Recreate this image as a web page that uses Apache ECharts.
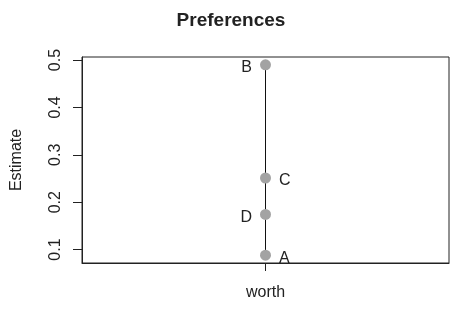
<!DOCTYPE html>
<html>
<head>
<meta charset="utf-8">
<script src="https://cdn.jsdelivr.net/npm/echarts@6/dist/echarts.min.js"></script>
<style>html,body{margin:0;padding:0;background:#fff}#c{width:462px;height:312px}</style>
</head>
<body>
<div id="c"></div>
<script>
var categories = ['worth'];
var items = ['A', 'B', 'C', 'D'];
var estimates = [0.088, 0.490, 0.251, 0.174];
var yTicks = [0.1, 0.2, 0.3, 0.4, 0.5];
var yRange = [0.0716, 0.5064];

var labelSide = { A: 'right', B: 'left', C: 'right', D: 'left' };
var order = items.map(function (n, i) { return i; }).sort(function (a, b) { return estimates[a] - estimates[b]; });
var seriesData = order.map(function (i) {
  return {
    name: items[i],
    value: [categories[0], estimates[i]],
    label: { position: labelSide[items[i]] }
  };
});

var font = 'Liberation Sans, Arial, sans-serif';
var chart = echarts.init(document.getElementById('c'), null, { renderer: 'canvas' });
chart.setOption({
  animation: false,
  title: {
    text: 'Preferences', left: 'center', top: 6,
    textStyle: { fontFamily: font, fontSize: 19, fontWeight: 'bold', color: '#222' }
  },
  grid: { left: 82, right: 13, top: 57, bottom: 49, show: true, borderColor: '#222', borderWidth: 1, backgroundColor: 'transparent' },
  xAxis: {
    type: 'category', data: categories, boundaryGap: true,
    axisLine: { show: true, lineStyle: { color: '#222' } },
    axisTick: { show: true, alignWithLabel: true, length: 8, lineStyle: { color: '#222' } },
    axisLabel: { margin: 22, fontFamily: font, fontSize: 16, color: '#222' },
    splitLine: { show: false }
  },
  yAxis: {
    type: 'value', min: yRange[0], max: yRange[1],
    name: 'Estimate', nameLocation: 'middle', nameRotate: 90, nameGap: 57,
    nameTextStyle: { fontFamily: font, fontSize: 16, color: '#222' },
    axisLine: { show: true, lineStyle: { color: '#222' } },
    axisTick: { show: true, length: 9, customValues: yTicks, lineStyle: { color: '#222' } },
    axisLabel: { rotate: 90, margin: 18, customValues: yTicks, fontFamily: font, fontSize: 16, color: '#222',
      formatter: function (v) { return String(Math.round(v * 10) / 10); } },
    splitLine: { show: false }
  },
  series: [{
    type: 'line',
    color: '#111',
    data: seriesData,
    symbol: 'circle', symbolSize: 11,
    itemStyle: { color: '#a3a3a3' },
    lineStyle: { color: '#111', width: 1, opacity: 1 },
    label: {
      show: true, formatter: '{b}', distance: 8,
      fontFamily: font, fontSize: 16, color: '#222', offset: [0, 3]
    },
    emphasis: { disabled: true }
  }]
});
</script>
</body>
</html>
